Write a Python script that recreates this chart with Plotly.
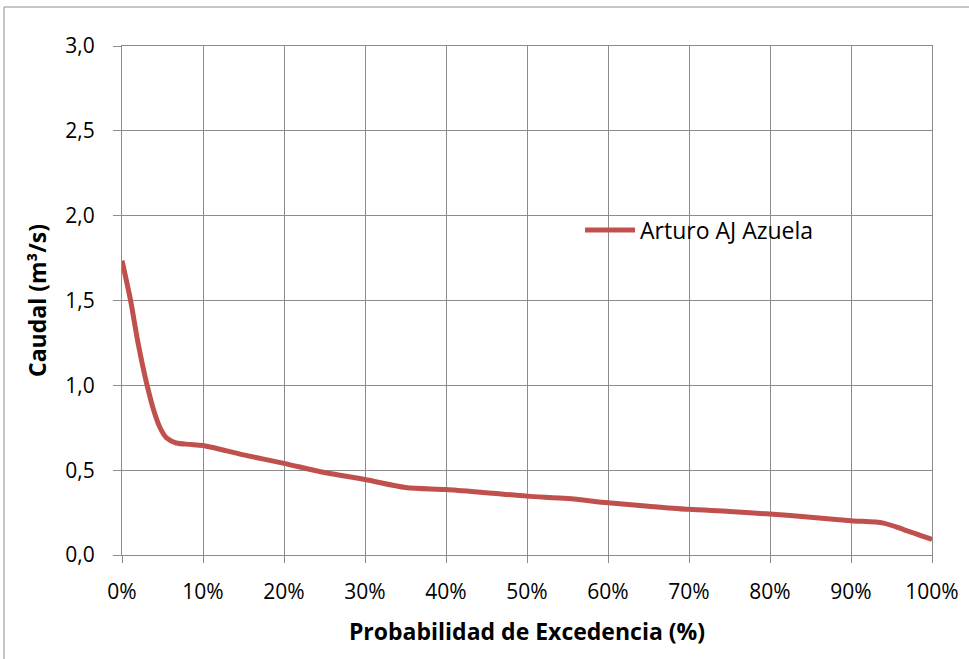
import plotly.graph_objects as go

# Flow-duration curve: exceedance probability (%) vs. discharge (m³/s)
probabilidad = [0, 1.06, 2.0, 3.1, 4.0, 4.7, 5.5, 6.7, 8.4, 10, 15, 20, 25, 30, 35, 40,
                45, 50, 55, 60, 65, 70, 75, 80, 85, 90, 94, 96.5, 100]
caudal = [1.735, 1.50, 1.245, 1.00, 0.84, 0.75, 0.69, 0.660, 0.652, 0.645, 0.59, 0.540,
          0.486, 0.445, 0.398, 0.386, 0.367, 0.347, 0.333, 0.308, 0.288, 0.269,
          0.257, 0.241, 0.223, 0.202, 0.188, 0.15, 0.092]
serie = "Arturo AJ Azuela"

x_ticks = list(range(0, 101, 10))
x_labels = [f"{v}%" for v in x_ticks]
y_ticks = [0, 0.5, 1.0, 1.5, 2.0, 2.5, 3.0]

FONT = "Open Sans"
GRID = "#8c8c8c"

fig = go.Figure()
fig.add_trace(go.Scatter(
    x=probabilidad, y=caudal, mode="lines", name=serie,
    line=dict(color="#C0504D", width=5, shape="spline", smoothing=0.8),
))

W, H = 969, 659
L, R, T, B = 122, 37, 46, 104
pw, ph = W - L - R, H - T - B

fig.update_layout(
    width=W, height=H,
    margin=dict(l=L, r=R, t=T, b=B, autoexpand=False),
    paper_bgcolor="white", plot_bgcolor="white",
    separators=", ",
    font=dict(family=FONT, size=21, color="black"),
    showlegend=True,
    legend=dict(x=(580 - L) / pw, y=(H - B - 230) / ph, xanchor="left", yanchor="middle",
                bgcolor="rgba(0,0,0,0)", font=dict(size=23, family=FONT),
                itemwidth=50, tracegroupgap=0),
    xaxis=dict(
        range=[0, 100], tickvals=x_ticks, ticktext=x_labels, automargin=False,
        showgrid=True, gridcolor=GRID, gridwidth=1,
        showline=True, linecolor=GRID, linewidth=1, mirror=True,
        ticks="outside", ticklen=7, tickcolor=GRID, ticklabelstandoff=11,
        zeroline=False,
        title=dict(text="<b>Probabilidad de Excedencia (%)</b>", font=dict(size=23), standoff=19),
    ),
    yaxis=dict(
        range=[0, 3.0], tickvals=y_ticks, tickformat=".1f", automargin=False,
        showgrid=True, gridcolor=GRID, gridwidth=1,
        showline=True, linecolor=GRID, linewidth=1, mirror=True,
        ticks="outside", ticklen=8, tickcolor=GRID, ticklabelstandoff=14,
        zeroline=False,
        title=dict(text="<b>Caudal (m³/s)</b>", font=dict(size=23), standoff=12),
    ),
    shapes=[dict(
        type="rect", xref="paper", yref="paper", layer="below",
        x0=(4 - L) / pw, x1=(W + 5 - L) / pw,
        y0=(H - B - (H + 5)) / ph, y1=(H - B - 7) / ph,
        line=dict(color="#8c8c8c", width=1), fillcolor="rgba(0,0,0,0)",
    )],
)

fig.write_html("out.html")
